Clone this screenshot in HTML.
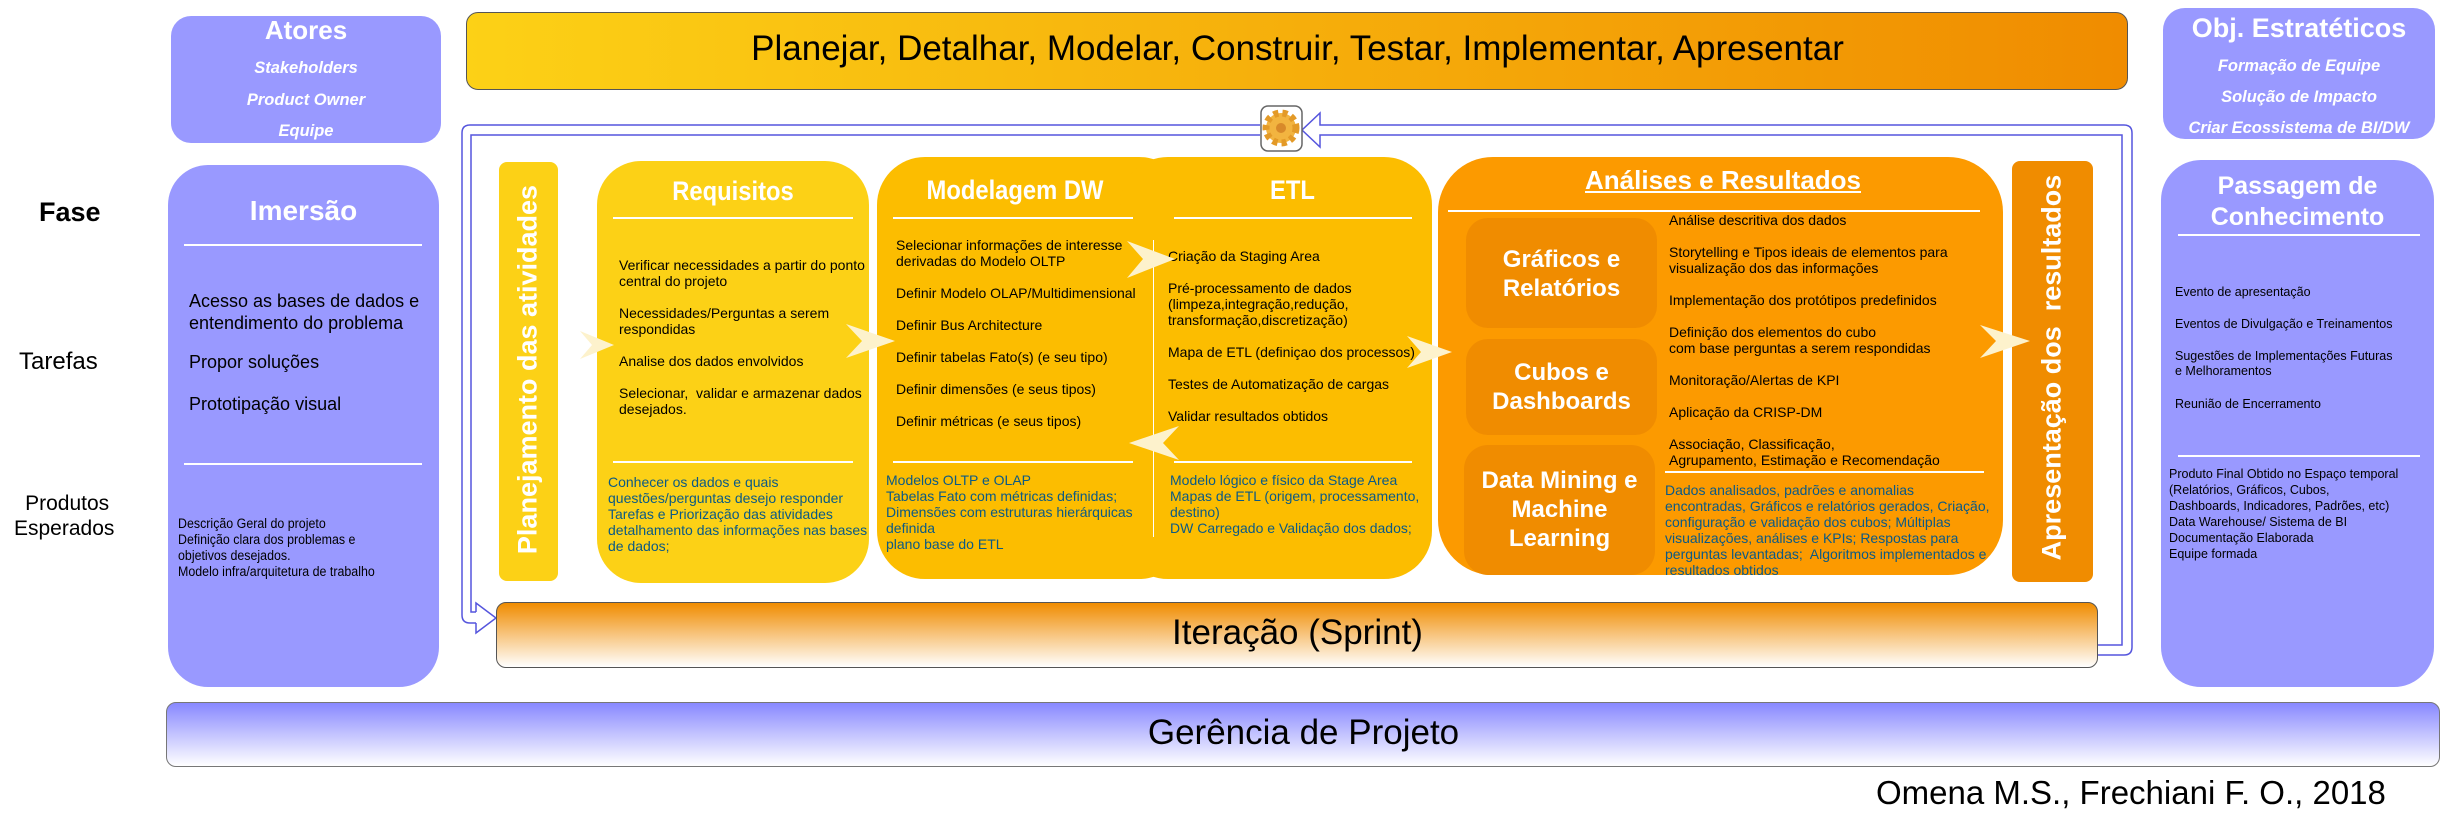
<!DOCTYPE html>
<html><head><meta charset="utf-8"><style>
body{margin:0;width:2444px;height:816px;background:#fff;position:relative;overflow:hidden;font-family:"Liberation Sans",sans-serif}
.a{position:absolute}
.t{font-size:14px;line-height:16px;color:#000;white-space:nowrap}
.b{font-size:14px;line-height:16px;color:#0b5a86;white-space:nowrap}
.hl{position:absolute;height:2px;background:#fff}
.ttl{position:absolute;color:#fff;font-weight:bold;text-align:center;white-space:nowrap}
.sx{transform:scaleX(0.88)}
</style></head><body>
<!-- left labels -->
<div class="a" style="left:39px;top:197px;font-size:27px;font-weight:bold">Fase</div>
<div class="a" style="left:19px;top:348px;font-size:24px">Tarefas</div>
<div class="a" style="left:14px;top:491px;font-size:21px;line-height:25px;text-align:center">&nbsp;Produtos<br>Esperados</div>

<!-- Atores -->
<div class="a" style="left:171px;top:16px;width:270px;height:127px;background:#9999ff;border-radius:20px"></div>
<div class="ttl" style="left:171px;top:15px;width:270px;font-size:26px">Atores</div>
<div class="ttl" style="left:171px;top:53px;width:270px;font-size:16.5px;font-style:italic;line-height:31.5px">Stakeholders<br>Product Owner<br>Equipe</div>

<!-- Imersão -->
<div class="a" style="left:168px;top:165px;width:271px;height:522px;background:#9999ff;border-radius:40px"></div>
<div class="ttl" style="left:168px;top:195px;width:271px;font-size:28px">Imersão</div>
<div class="hl" style="left:184px;top:244px;width:238px"></div>
<div class="a" style="left:189px;top:290px;font-size:18px;line-height:22px">Acesso as bases de dados e<br>entendimento do problema</div>
<div class="a" style="left:189px;top:352px;font-size:18px">Propor soluções</div>
<div class="a" style="left:189px;top:394px;font-size:18px">Prototipação visual</div>
<div class="hl" style="left:184px;top:463px;width:238px"></div>
<div class="a" style="left:178px;top:516px;font-size:13.5px;line-height:16px;white-space:nowrap;transform:scaleX(0.92);transform-origin:left">Descrição Geral do projeto<br>Definição clara dos problemas e<br>objetivos desejados.<br>Modelo infra/arquitetura de trabalho</div>

<!-- top bar -->
<div class="a" style="left:466px;top:12px;width:1660px;height:76px;border:1.5px solid #555;border-radius:12px;background:linear-gradient(90deg,#fcd116,#f08c00)"></div>
<div class="a" style="left:466px;top:29px;width:1663px;text-align:center;font-size:35px">Planejar, Detalhar, Modelar, Construir, Testar, Implementar, Apresentar</div>

<!-- Obj -->
<div class="a" style="left:2163px;top:8px;width:272px;height:131px;background:#9999ff;border-radius:22px"></div>
<div class="ttl" style="left:2163px;top:13px;width:272px;font-size:27px">Obj. Estratéticos</div>
<div class="ttl" style="left:2163px;top:51px;width:272px;font-size:16.5px;font-style:italic;line-height:31px">Formação de Equipe<br>Solução de Impacto<br>Criar Ecossistema de BI/DW</div>

<!-- Passagem -->
<div class="a" style="left:2161px;top:160px;width:273px;height:527px;background:#9999ff;border-radius:40px"></div>
<div class="ttl" style="left:2161px;top:171px;width:273px;font-size:25px;line-height:31px">Passagem de<br>Conhecimento</div>
<div class="hl" style="left:2178px;top:234px;width:242px"></div>
<div class="a" style="left:2175px;top:285px;font-size:12.5px;line-height:15px;white-space:nowrap">Evento de apresentação</div>
<div class="a" style="left:2175px;top:317px;font-size:12.5px;line-height:15px;white-space:nowrap">Eventos de Divulgação e Treinamentos</div>
<div class="a" style="left:2175px;top:349px;font-size:12.5px;line-height:15px;white-space:nowrap">Sugestões de Implementações Futuras<br>e Melhoramentos</div>
<div class="a" style="left:2175px;top:397px;font-size:12.5px;line-height:15px;white-space:nowrap">Reunião de Encerramento</div>
<div class="hl" style="left:2178px;top:455px;width:242px"></div>
<div class="a" style="left:2169px;top:466px;font-size:12.5px;line-height:16px;white-space:nowrap">Produto Final Obtido no Espaço temporal<br>(Relatórios, Gráficos, Cubos,<br>Dashboards, Indicadores, Padrões, etc)<br>Data Warehouse/ Sistema de BI<br>Documentação Elaborada<br>Equipe formada</div>

<!-- Gerência -->
<div class="a" style="left:166px;top:702px;width:2272px;height:63px;border:1.5px solid #777;border-radius:10px;background:linear-gradient(#8888ff,#fff)"></div>
<div class="a" style="left:166px;top:713px;width:2275px;text-align:center;font-size:35px">Gerência de Projeto</div>
<div class="a" style="left:1876px;top:774px;font-size:33px;white-space:nowrap">Omena M.S., Frechiani F. O., 2018</div>

<!-- loop connector -->
<svg class="a" style="left:0;top:0" width="2444" height="816">
<g fill="none" stroke="#5555dd" stroke-width="1.5">
<path d="M1260 125 H470 Q462 125 462 133 V615 Q462 623 470 623 H476"/>
<path d="M1260 135 H471 V612 H476"/>
<path d="M476 612 V603 L496 618 L476 633 V623"/>
<path d="M2097 645 H2122 V135 H1320 V147 L1302 130 L1320 113 V125 H2124 Q2132 125 2132 133 V647 Q2132 655 2124 655 H2097"/>
</g>
<rect x="1261" y="106" width="41" height="45" rx="7" fill="#fff" stroke="#666" stroke-width="1.5"/>
<circle cx="1281" cy="128" r="15" fill="#f2b440" stroke="#e39a28" stroke-width="7" stroke-dasharray="5 4"/>
<circle cx="1281" cy="128" r="5" fill="#d8892a"/>
</svg>

<!-- Iteração -->
<div class="a" style="left:496px;top:602px;width:1600px;height:64px;border:1.5px solid #555;border-radius:10px;background:linear-gradient(#f08c00,#fff)"></div>
<div class="a" style="left:496px;top:613px;width:1603px;text-align:center;font-size:35px">Iteração (Sprint)</div>

<!-- Planejamento -->
<div class="a" style="left:499px;top:162px;width:59px;height:419px;background:#fcd116;border-radius:8px"></div>
<div class="ttl" style="left:328px;top:354px;width:400px;font-size:27px;transform:rotate(-90deg)">Planejamento das atividades</div>

<!-- Requisitos -->
<div class="a" style="left:597px;top:161px;width:272px;height:422px;background:#fcd116;border-radius:44px"></div>
<div class="ttl sx" style="left:597px;top:176px;width:272px;font-size:27px">Requisitos</div>
<div class="hl" style="left:613px;top:217px;width:240px"></div>
<div class="a t" style="left:619px;top:257px">Verificar necessidades a partir do ponto<br>central do projeto</div>
<div class="a t" style="left:619px;top:305px">Necessidades/Perguntas a serem<br>respondidas</div>
<div class="a t" style="left:619px;top:353px">Analise dos dados envolvidos</div>
<div class="a t" style="left:619px;top:385px">Selecionar,&nbsp; validar e armazenar dados<br>desejados.</div>
<div class="hl" style="left:613px;top:461px;width:240px"></div>
<div class="a b" style="left:608px;top:474px">Conhecer os dados e quais<br>questões/perguntas desejo responder<br>Tarefas e Priorização das atividades<br>detalhamento das informações nas bases<br>de dados;</div>

<!-- Modelagem + ETL -->
<div class="a" style="left:877px;top:157px;width:310px;height:422px;background:#fcbd00;border-radius:48px"></div>
<div class="a" style="left:1120px;top:157px;width:312px;height:422px;background:#fcbd00;border-radius:48px"></div>
<div class="a" style="left:1153px;top:240px;width:1px;height:297px;background:#fff"></div>
<div class="ttl sx" style="left:877px;top:175px;width:276px;font-size:27px">Modelagem DW</div>
<div class="hl" style="left:893px;top:217px;width:240px"></div>
<div class="a t" style="left:896px;top:237px">Selecionar informações de interesse<br>derivadas do Modelo OLTP</div>
<div class="a t" style="left:896px;top:285px">Definir Modelo OLAP/Multidimensional</div>
<div class="a t" style="left:896px;top:317px">Definir Bus Architecture</div>
<div class="a t" style="left:896px;top:349px">Definir tabelas Fato(s) (e seu tipo)</div>
<div class="a t" style="left:896px;top:381px">Definir dimensões (e seus tipos)</div>
<div class="a t" style="left:896px;top:413px">Definir métricas (e seus tipos)</div>
<div class="hl" style="left:893px;top:461px;width:240px"></div>
<div class="a b" style="left:886px;top:472px">Modelos OLTP e OLAP<br>Tabelas Fato com métricas definidas;<br>Dimensões com estruturas hierárquicas<br>definida<br>plano base do ETL</div>
<div class="ttl sx" style="left:1153px;top:175px;width:279px;font-size:27px">ETL</div>
<div class="hl" style="left:1174px;top:217px;width:238px"></div>
<div class="a t" style="left:1168px;top:248px">Criação da Staging Area</div>
<div class="a t" style="left:1168px;top:280px">Pré-processamento de dados<br>(limpeza,integração,redução,<br>transformação,discretização)</div>
<div class="a t" style="left:1168px;top:344px">Mapa de ETL (definiçao dos processos)</div>
<div class="a t" style="left:1168px;top:376px">Testes de Automatização de cargas</div>
<div class="a t" style="left:1168px;top:408px">Validar resultados obtidos</div>
<div class="hl" style="left:1174px;top:461px;width:238px"></div>
<div class="a b" style="left:1170px;top:472px">Modelo lógico e físico da Stage Area<br>Mapas de ETL (origem, processamento,<br>destino)<br>DW Carregado e Validação dos dados;</div>

<!-- Análises -->
<div class="a" style="left:1438px;top:157px;width:565px;height:418px;background:#fc9a00;border-radius:55px"></div>
<div class="ttl" style="left:1438px;top:165px;width:570px;font-size:26px;text-decoration:underline">Análises e Resultados</div>
<div class="hl" style="left:1448px;top:210px;width:532px"></div>
<div class="a" style="left:1466px;top:218px;width:191px;height:110px;background:#f08c00;border-radius:22px"></div>
<div class="a" style="left:1466px;top:339px;width:191px;height:96px;background:#f08c00;border-radius:22px"></div>
<div class="a" style="left:1464px;top:445px;width:191px;height:130px;background:#f08c00;border-radius:24px"></div>
<div class="ttl" style="left:1466px;top:245px;width:191px;font-size:24px;line-height:29px">Gráficos e<br>Relatórios</div>
<div class="ttl" style="left:1466px;top:358px;width:191px;font-size:24px;line-height:29px">Cubos e<br>Dashboards</div>
<div class="ttl" style="left:1464px;top:466px;width:191px;font-size:24px;line-height:29px">Data Mining e<br>Machine<br>Learning</div>
<div class="a t" style="left:1669px;top:212px">Análise descritiva dos dados</div>
<div class="a t" style="left:1669px;top:244px">Storytelling e Tipos ideais de elementos para<br>visualização dos das informações</div>
<div class="a t" style="left:1669px;top:292px">Implementação dos protótipos predefinidos</div>
<div class="a t" style="left:1669px;top:324px">Definição dos elementos do cubo<br>com base perguntas a serem respondidas</div>
<div class="a t" style="left:1669px;top:372px">Monitoração/Alertas de KPI</div>
<div class="a t" style="left:1669px;top:404px">Aplicação da CRISP-DM</div>
<div class="a t" style="left:1669px;top:436px">Associação, Classificação,<br>Agrupamento, Estimação e Recomendação</div>
<div class="hl" style="left:1665px;top:471px;width:319px"></div>
<div class="a b" style="left:1665px;top:482px">Dados analisados, padrões e anomalias<br>encontradas, Gráficos e relatórios gerados, Criação,<br>configuração e validação dos cubos; Múltiplas<br>visualizações, análises e KPIs; Respostas para<br>perguntas levantadas;&nbsp; Algoritmos implementados e<br>resultados obtidos</div>

<!-- Apresentação -->
<div class="a" style="left:2012px;top:161px;width:81px;height:421px;background:#f08c00;border-radius:8px"></div>
<div class="ttl" style="left:1852px;top:352px;width:400px;font-size:27px;transform:rotate(-90deg)">Apresentação dos&nbsp; resultados</div>

<!-- chevron arrows -->
<svg class="a" style="left:0;top:0" width="2444" height="816">
<g fill="#fdf2cc">
<path d="M580 331 L614 345 L580 359 L592 345 Z"/>
<path d="M846 324 L895 341 L846 358 L862 341 Z"/>
<path d="M1127 241 L1175 259 L1127 278 L1143 259 Z"/>
<path d="M1179 426 L1129 443 L1179 460 L1163 443 Z"/>
<path d="M1407 336 L1452 352 L1407 368 L1421 352 Z"/>
<path d="M1980 325 L2030 341 L1980 358 L1996 341 Z"/>
</g>
</svg>
</body></html>
